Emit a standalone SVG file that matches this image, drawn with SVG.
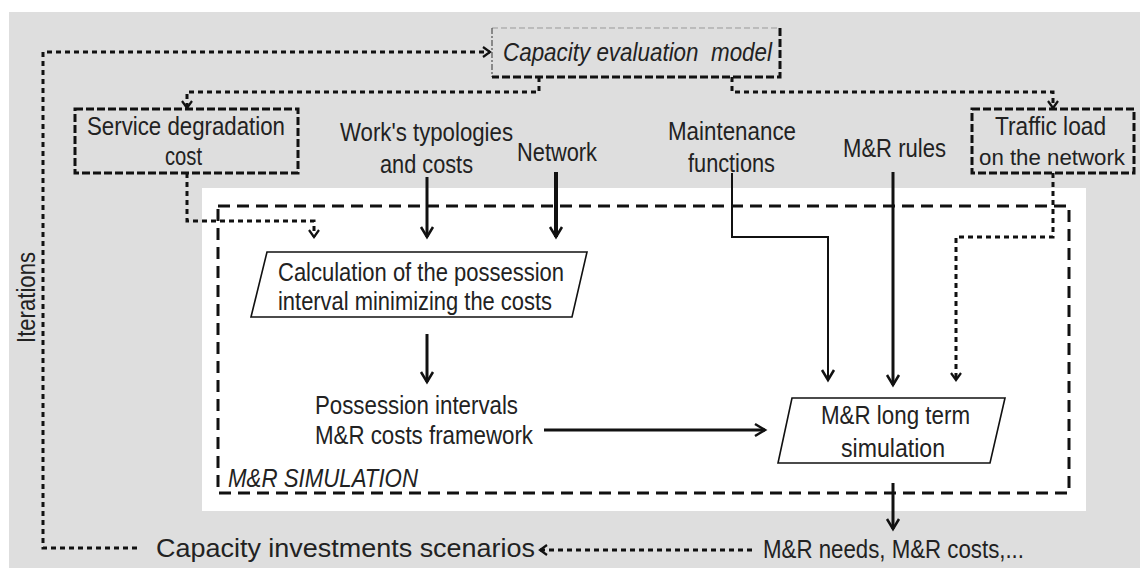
<svg xmlns="http://www.w3.org/2000/svg" width="1140" height="568" viewBox="0 0 1140 568">
<style>
text{font-family:"Liberation Sans Narrow","Liberation Sans","Arial Narrow",Arial,sans-serif;font-size:26px;fill:#222;}
.it{font-style:italic;}
.solid{fill:none;stroke:#111;stroke-width:3;}
.dot{fill:none;stroke:#111;stroke-width:3;stroke-dasharray:5 4;}
.boxd{fill:none;stroke:#111;stroke-width:3;stroke-dasharray:8 3;}
.simbox{fill:none;stroke:#111;stroke-width:3;stroke-dasharray:12 7;}
.para{fill:#fff;stroke:#111;stroke-width:1.6;}
</style>
<defs>
<marker id="ah" viewBox="-12 -8 14 16" refX="0" refY="0" markerWidth="14" markerHeight="16" markerUnits="userSpaceOnUse" orient="auto" overflow="visible"><path d="M-10,-6 L0,0 L-10,6" fill="none" stroke="#111" stroke-width="2.5" stroke-dasharray="none"/></marker>
<marker id="ad" viewBox="-10 -7 12 14" refX="0" refY="0" markerWidth="12" markerHeight="14" markerUnits="userSpaceOnUse" orient="auto" overflow="visible"><path d="M-7,-5 L0,0 L-7,5" fill="none" stroke="#111" stroke-width="2.2" stroke-dasharray="none"/></marker>
</defs>
<rect x="9" y="12" width="1131" height="556" fill="#dedede"/>
<rect x="202" y="188" width="884" height="323" fill="#ffffff"/>

<g id="sim-frame">
<rect class="simbox" x="218" y="206" width="851" height="287"/>
<text class="it" x="228" y="487" textLength="190" lengthAdjust="spacingAndGlyphs">M&amp;R SIMULATION</text>
</g>

<g id="connectors">
<path class="dot" d="M137,548 H43 V52 H490" marker-end="url(#ad)"/>
<path class="dot" d="M539,77 V92 H187 V108" marker-end="url(#ad)"/>
<path class="dot" d="M732,77 V92 H1053 V108" marker-end="url(#ad)"/>
<path class="dot" d="M187,173 V221 H314 V237" marker-end="url(#ad)"/>
<path class="dot" d="M1053,173 V237 H956 V380" marker-end="url(#ad)"/>
<path class="dot" d="M752,550 H540" marker-end="url(#ad)"/>
<path class="solid" d="M427,177 V237" marker-end="url(#ah)"/>
<path class="solid" style="stroke-width:4" d="M556,172 V237" marker-end="url(#ah)"/>
<path class="solid" style="stroke-width:2" d="M732,173 V237 H828 V380" marker-end="url(#ah)"/>
<path class="solid" d="M893,172 V385" marker-end="url(#ah)"/>
<path class="solid" d="M427,334 V382" marker-end="url(#ah)"/>
<path class="solid" d="M544,430 H765" marker-end="url(#ah)"/>
<path class="solid" d="M893,483 V529" marker-end="url(#ah)"/>
</g>

<g id="capacity-model">
<path d="M492,28 H780" fill="none" stroke="#999" stroke-width="1" stroke-dasharray="6 3"/>
<path d="M492,28 V77" fill="none" stroke="#333" stroke-width="1" stroke-dasharray="6 2 2 2"/>
<path d="M780,28 V77 H492" class="boxd"/>
<text class="it" x="503" y="61" textLength="269" lengthAdjust="spacingAndGlyphs" xml:space="preserve">Capacity evaluation  model</text>
</g>

<g id="service-degradation">
<rect class="boxd" x="75" y="109" width="223" height="64"/>
<text x="87" y="135" textLength="198" lengthAdjust="spacingAndGlyphs">Service degradation</text>
<text x="165" y="165" textLength="37" lengthAdjust="spacingAndGlyphs">cost</text>
</g>

<g id="works">
<text x="340" y="141" textLength="173" lengthAdjust="spacingAndGlyphs">Work's typologies</text>
<text x="380" y="173" textLength="93" lengthAdjust="spacingAndGlyphs">and costs</text>
</g>

<g id="network">
<text x="517" y="161" textLength="80" lengthAdjust="spacingAndGlyphs">Network</text>
</g>

<g id="maintenance">
<text x="668" y="140" textLength="128" lengthAdjust="spacingAndGlyphs">Maintenance</text>
<text x="688" y="172" textLength="87" lengthAdjust="spacingAndGlyphs">functions</text>
</g>

<g id="rules">
<text x="843" y="157" textLength="103" lengthAdjust="spacingAndGlyphs">M&amp;R rules</text>
</g>

<g id="traffic">
<rect class="boxd" x="972" y="109" width="162" height="64"/>
<text x="995" y="135" textLength="111" lengthAdjust="spacingAndGlyphs">Traffic load</text>
<text x="979" y="165" style="font-size:22.5px" textLength="146" lengthAdjust="spacingAndGlyphs">on the network</text>
</g>

<g id="calculation">
<polygon class="para" points="267,252 587,252 572,317 251,317"/>
<text x="278" y="281" textLength="286" lengthAdjust="spacingAndGlyphs">Calculation of the possession</text>
<text x="278" y="310" textLength="274" lengthAdjust="spacingAndGlyphs">interval minimizing the costs</text>
</g>

<g id="possession">
<text x="315" y="414" textLength="203" lengthAdjust="spacingAndGlyphs">Possession intervals</text>
<text x="315" y="444" textLength="218" lengthAdjust="spacingAndGlyphs">M&amp;R costs framework</text>
</g>

<g id="long-term">
<polygon class="para" points="792,398 1005,398 990,463 778,463"/>
<text x="821" y="424" textLength="149" lengthAdjust="spacingAndGlyphs">M&amp;R long term</text>
<text x="841" y="457" textLength="104" lengthAdjust="spacingAndGlyphs">simulation</text>
</g>

<g id="needs">
<text x="763" y="558" textLength="261" lengthAdjust="spacingAndGlyphs">M&amp;R needs, M&amp;R costs,...</text>
</g>

<g id="scenarios">
<text x="156" y="557" textLength="379" lengthAdjust="spacingAndGlyphs">Capacity investments scenarios</text>
</g>

<g id="iterations">
<text transform="translate(35,343) rotate(-90)" textLength="91" lengthAdjust="spacingAndGlyphs">Iterations</text>
</g>
</svg>
